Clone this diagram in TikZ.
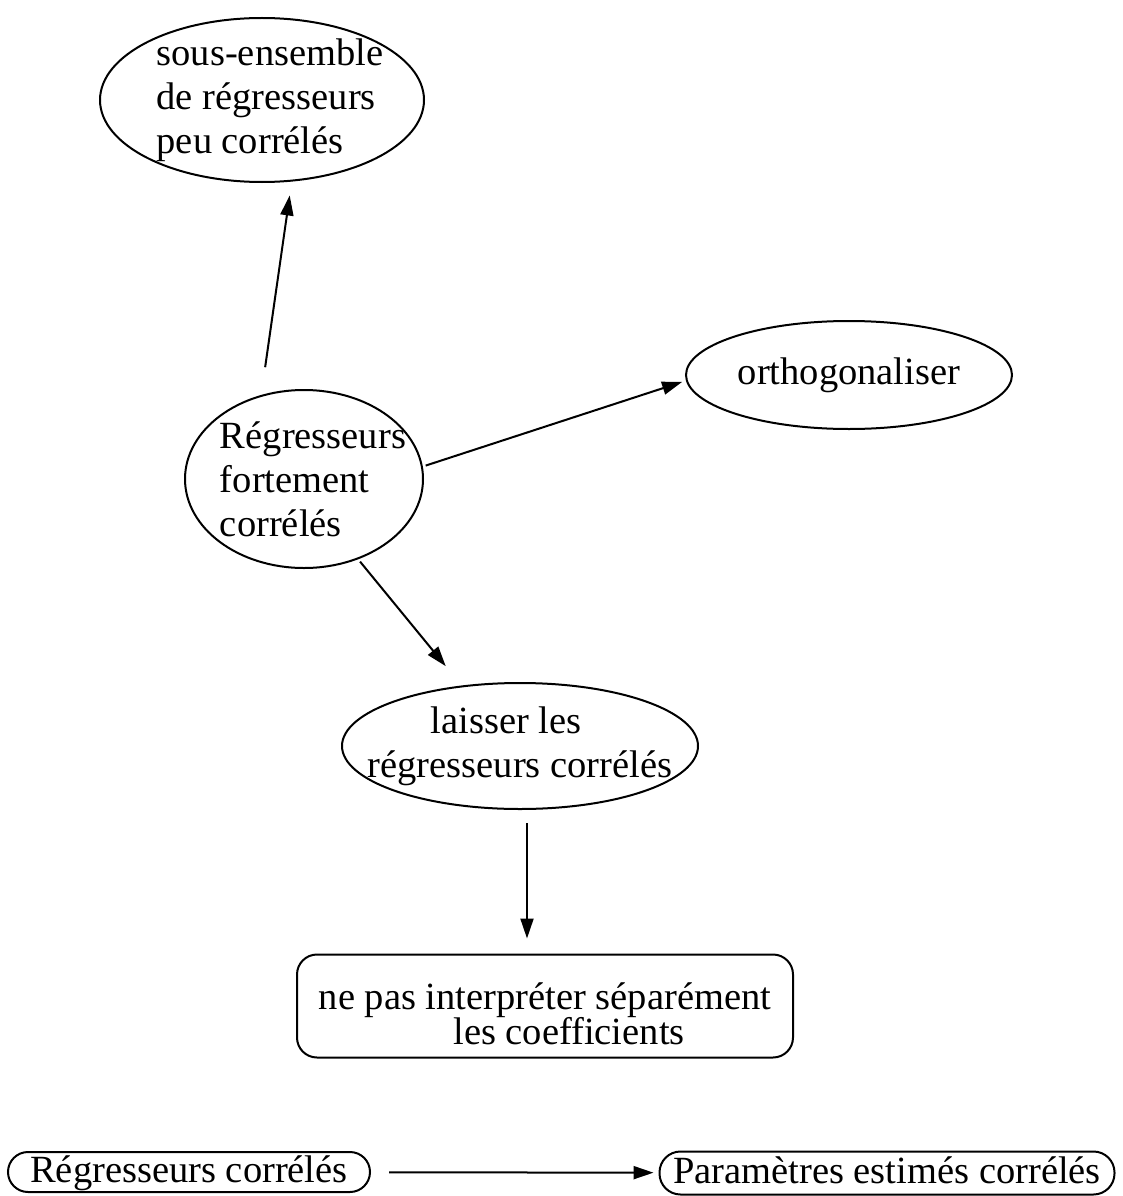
\documentclass[tikz,border=0pt]{standalone}
\usepackage{fontspec}
\setmainfont{Liberation Serif}
\usetikzlibrary{arrows.meta,shapes.geometric}

\begin{document}
\begin{tikzpicture}[
  x=1pt,y=-1pt,
  line width=2pt,
  font=\fontsize{38.5}{44}\selectfont,
  bubble/.style={draw,ellipse,inner xsep=0pt,inner ysep=0pt},
  pill/.style={draw,rectangle,inner sep=0pt,text height=28pt,text depth=8pt},
  arr/.style={-{Triangle[length=20pt,width=13pt]}}
]
\path[fill=white,use as bounding box] (0,0) rectangle (1122,1196);
\node[bubble,minimum width=324pt,minimum height=164pt,inner xsep=-8pt,inner ysep=-4pt,align=left] (subset) at (262,100)
  {\hspace*{16pt}sous-ensemble\\\hspace*{16pt}de régresseurs\\\hspace*{16pt}peu corrélés};
\node[bubble,minimum width=238pt,minimum height=178pt,inner xsep=-18pt,align=left] (strong) at (304,479)
  {\hspace*{18pt}Régresseurs\\\hspace*{18pt}fortement\\\hspace*{18pt}corrélés};
\node[bubble,minimum width=326pt,minimum height=108pt] (ortho) at (849,375) {orthogonaliser};
\node[bubble,minimum width=356pt,minimum height=126pt,inner xsep=-27pt,align=center] (keep) at (520,746) {laisser les\hspace*{28pt}\\régresseurs corrélés};
\node[draw,rounded corners=20pt,inner sep=0pt,minimum width=496pt,minimum height=103pt,align=center] (interp) at (545,1006)
  {\rule{0pt}{43pt}ne pas interpréter séparément\\[-9pt]\hspace*{48pt}les coefficients};
\node[pill,rounded corners=20pt,minimum width=362pt,minimum height=40pt] (corr) at (189,1172) {Régresseurs corrélés};
\node[pill,rounded corners=21pt,minimum width=455pt,minimum height=43pt] (param) at (887,1173) {Paramètres estimés corrélés};
\draw[arr,shorten <=28pt,shorten >=14pt] (strong.117) -- (subset.-70);
\draw[arr,shorten <=3pt,shorten >=4pt] (strong.6) -- (ortho.182);
\draw[arr,shorten <=3pt,shorten >=25pt] (strong.-56) -- (keep.134);
\draw[arr,shorten <=13pt,shorten >=15pt] ([xshift=7pt]keep.south) -- ([xshift=-18pt]interp.north);
\draw[arr,shorten <=18pt,shorten >=5pt] (corr) -- (param);
\end{tikzpicture}
\end{document}
